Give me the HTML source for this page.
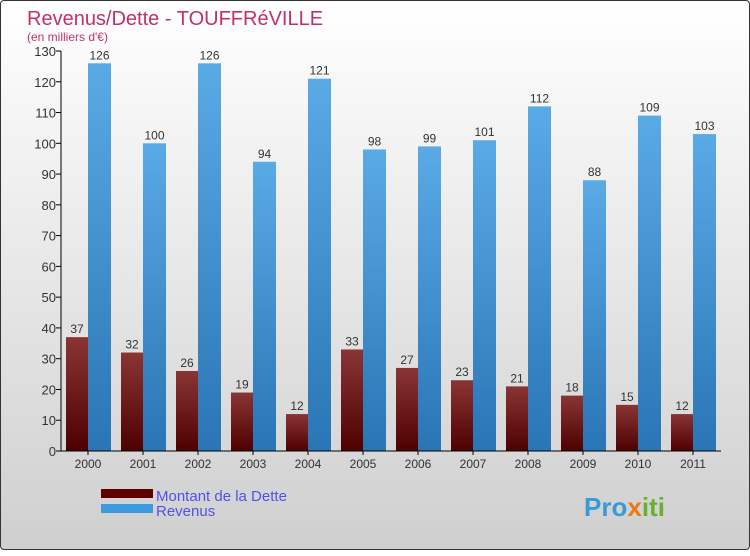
<!DOCTYPE html>
<html><head><meta charset="utf-8"><style>
body{margin:0;width:750px;height:550px;overflow:hidden;font-family:"Liberation Sans",sans-serif}
#wrap{position:absolute;left:0;top:0;width:748px;height:548px;border:1px solid #333;border-radius:4px;background:linear-gradient(#ffffff,#cfcfcf)}
</style></head><body>
<div id="wrap">
<svg id="c" width="750" height="550">
<defs>
<linearGradient id="gr" x1="0" y1="0" x2="0" y2="1"><stop offset="0" stop-color="#8a3535"/><stop offset="1" stop-color="#4e0000"/></linearGradient>
<linearGradient id="gb" x1="0" y1="0" x2="0" y2="1"><stop offset="0" stop-color="#5aaae6"/><stop offset="1" stop-color="#2a75b5"/></linearGradient>
</defs>
<text x="26" y="24" font-size="20" fill="#c0306a">Revenus/Dette - TOUFFRéVILLE</text>
<text x="26" y="40" font-size="12" fill="#c0306a">(en milliers d'€)</text>
<g id="g"></g>
<rect x="100" y="488" width="52" height="9" fill="#5e0000"/>
<text x="155" y="500" font-size="15" fill="#5050f0">Montant de la Dette</text>
<rect x="100" y="503" width="52" height="9" fill="#3c9be0"/>
<text x="155" y="515" font-size="15" fill="#5050f0">Revenus</text>
<text x="583" y="515" font-size="26" font-weight="bold" fill="#3a9ad8">Pro<tspan fill="#e87a10">x</tspan><tspan fill="#6ab030">iti</tspan></text>
</svg></div>
<script>
const years=["2000","2001","2002","2003","2004","2005","2006","2007","2008","2009","2010","2011"];
const dette=[37,32,26,19,12,33,27,23,21,18,15,12];
const revenus=[126,100,126,94,121,98,99,101,112,88,109,103];
const ticks=[0,10,20,30,40,50,60,70,80,90,100,110,120,130];
const NS="http://www.w3.org/2000/svg";
const g=document.getElementById('g');
const y=v=>450-v*400/130;
const xc=i=>87+i*55;
function mk(t,a,txt){const e=document.createElementNS(NS,t);for(const k in a)e.setAttribute(k,a[k]);if(txt!=null)e.textContent=txt;g.appendChild(e);return e;}
ticks.forEach(t=>{
 const l=mk('line',{x1:55,x2:60,y1:y(t),y2:y(t),stroke:'#000'});
 
 
 const tx=mk('text',{x:55,y:y(t)+5,'text-anchor':'end','font-size':13,fill:'#333'},t);
 
 
});
years.forEach((yr,i)=>{
 const c=xc(i);
 const b1=mk('rect',{x:c-22,y:y(dette[i]),width:22,height:450-y(dette[i]),fill:'url(#gr)'});
 
 
 const b2=mk('rect',{x:c,y:y(revenus[i]),width:23,height:450-y(revenus[i]),fill:'url(#gb)'});
 
 
 const t1=mk('text',{x:c-11,y:y(dette[i])-4,'text-anchor':'middle','font-size':12,fill:'#333'},dette[i]);
 
 
 const t2=mk('text',{x:c+11.5,y:y(revenus[i])-4,'text-anchor':'middle','font-size':12,fill:'#333'},revenus[i]);
 
 
 const xl=mk('text',{x:c,y:467,'text-anchor':'middle','font-size':12,fill:'#333'},yr);
 
 
 const xt=mk('line',{x1:c,x2:c,y1:450,y2:454,stroke:'#000'});
 
 
});
const ya=mk('line',{x1:60,x2:60,y1:y(130),y2:450,stroke:'#000'});


const xa=mk('line',{x1:60,x2:720,y1:450,y2:450,stroke:'#000'});


</script>
</body></html>
